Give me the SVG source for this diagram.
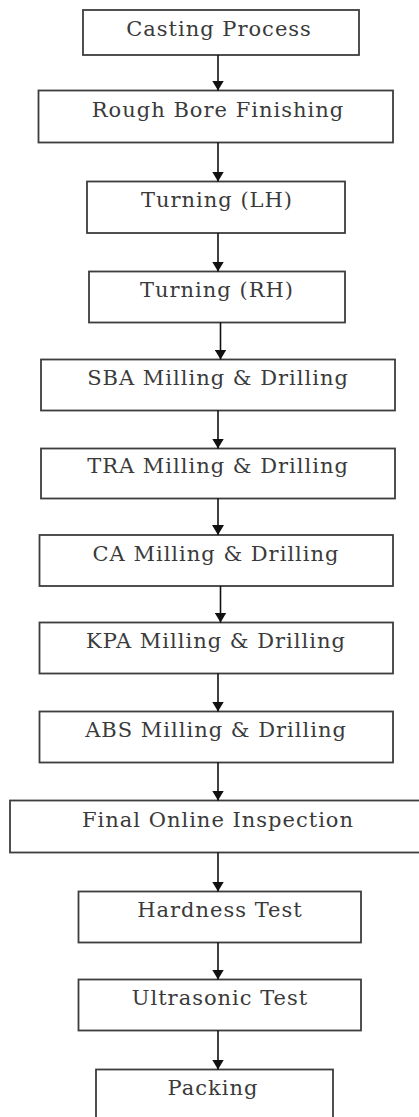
<svg xmlns="http://www.w3.org/2000/svg" width="419" height="1117" viewBox="0 0 419 1117">
  <style>
    .box { fill: #ffffff; stroke: #3d3d3d; stroke-width: 1.8; }
    .lbl { font-family: "DejaVu Serif", "Liberation Serif", serif; font-size: 21px; letter-spacing: 1px; fill: #3a3a3a; text-anchor: middle; }
    .link { stroke: #111111; stroke-width: 1.6; fill: none; marker-end: url(#head); }
  </style>
  <defs>
    <marker id="head" viewBox="0 0 10 12" refX="10" refY="6" markerWidth="10" markerHeight="12" markerUnits="userSpaceOnUse" orient="auto">
      <path d="M0,0 L10,6 L0,12 z" fill="#111111"/>
    </marker>
  </defs>
  <rect width="419" height="1117" fill="#ffffff"/>

  <!-- process steps, top to bottom -->
  <g id="casting">
    <rect class="box" x="83" y="10" width="276" height="45"/>
    <text class="lbl" x="219" y="36">Casting Process</text>
  </g>
  <g id="rough-bore">
    <rect class="box" x="38.5" y="90.5" width="354.5" height="52"/>
    <text class="lbl" x="218" y="116.5">Rough Bore Finishing</text>
  </g>
  <g id="turning-lh">
    <rect class="box" x="87" y="181.5" width="258" height="51.5"/>
    <text class="lbl" x="217" y="207">Turning (LH)</text>
  </g>
  <g id="turning-rh">
    <rect class="box" x="89" y="271.5" width="256" height="51"/>
    <text class="lbl" x="217" y="297">Turning (RH)</text>
  </g>
  <g id="sba">
    <rect class="box" x="41" y="359.5" width="354" height="51"/>
    <text class="lbl" x="218" y="385">SBA Milling &amp; Drilling</text>
  </g>
  <g id="tra">
    <rect class="box" x="41" y="448.5" width="354" height="50"/>
    <text class="lbl" x="218" y="473">TRA Milling &amp; Drilling</text>
  </g>
  <g id="ca">
    <rect class="box" x="39.5" y="535" width="353.5" height="51"/>
    <text class="lbl" x="216" y="560.5">CA Milling &amp; Drilling</text>
  </g>
  <g id="kpa">
    <rect class="box" x="39.5" y="622.5" width="353.5" height="51"/>
    <text class="lbl" x="216" y="647.5">KPA Milling &amp; Drilling</text>
  </g>
  <g id="abs">
    <rect class="box" x="39.5" y="711.5" width="353.5" height="51"/>
    <text class="lbl" x="216" y="737">ABS Milling &amp; Drilling</text>
  </g>
  <g id="final-inspection">
    <rect class="box" x="10" y="800.5" width="416" height="52"/>
    <text class="lbl" x="218" y="827">Final Online Inspection</text>
  </g>
  <g id="hardness">
    <rect class="box" x="78.5" y="891.5" width="282.5" height="51"/>
    <text class="lbl" x="220" y="917">Hardness Test</text>
  </g>
  <g id="ultrasonic">
    <rect class="box" x="78.5" y="979.5" width="282.5" height="51"/>
    <text class="lbl" x="220" y="1005">Ultrasonic Test</text>
  </g>
  <g id="packing">
    <rect class="box" x="96" y="1069.5" width="237" height="60"/>
    <text class="lbl" x="213" y="1095">Packing</text>
  </g>

  <!-- flow arrows -->
  <g id="connectors">
    <line class="link" x1="218" y1="55" x2="218" y2="90.5"/>
    <line class="link" x1="218" y1="142.5" x2="218" y2="181.5"/>
    <line class="link" x1="218" y1="233" x2="218" y2="271.5"/>
    <line class="link" x1="220.5" y1="322.5" x2="220.5" y2="359.5"/>
    <line class="link" x1="218" y1="410.5" x2="218" y2="448.5"/>
    <line class="link" x1="218" y1="498.5" x2="218" y2="535"/>
    <line class="link" x1="220.5" y1="586" x2="220.5" y2="622.5"/>
    <line class="link" x1="218" y1="673.5" x2="218" y2="711.5"/>
    <line class="link" x1="218" y1="762.5" x2="218" y2="800.5"/>
    <line class="link" x1="218" y1="852.5" x2="218" y2="891.5"/>
    <line class="link" x1="218" y1="942.5" x2="218" y2="979.5"/>
    <line class="link" x1="218" y1="1030.5" x2="218" y2="1069.5"/>
  </g>
</svg>
